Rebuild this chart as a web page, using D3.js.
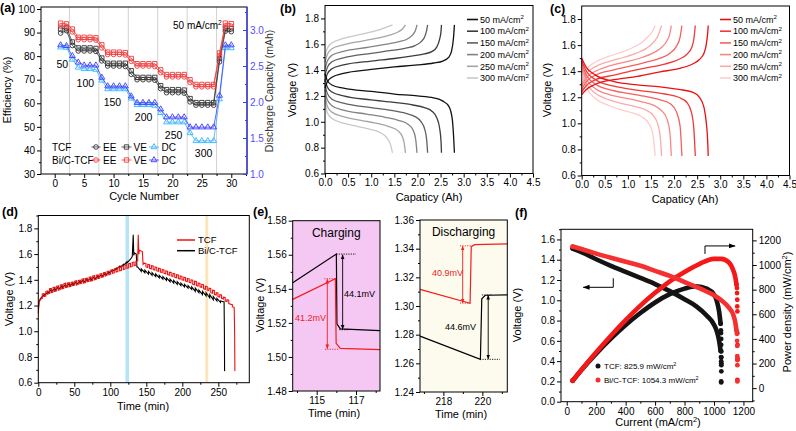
<!DOCTYPE html>
<html><head><meta charset="utf-8">
<script src="https://cdn.jsdelivr.net/npm/d3@7"></script>
<style>body{margin:0;background:#fff}svg{display:block}</style>
</head><body>
<svg id="fig" width="796" height="431"></svg>
<script>
// ================= DATA =================
// (a) cycling performance
const aCycles = [1,2,3,4,5,6,7,8,9,10,11,12,13,14,15,16,17,18,19,20,21,22,23,24,25,26,27,28,29,30];
const aTcfEE = [89.8,90.8,84.5,82.2,82.2,82.2,82,78,75.8,75.8,75.8,75.6,72.3,70,70,70,69.8,66.2,64.5,64.5,64.5,64.3,60.6,59.2,59.2,59.2,59.2,77.6,90.6,90.4];
const aTcfVE = [91.5,92,86,83.5,83.5,83.5,83.3,79.2,77,77,77,77,73.8,71,71,71,71,67.5,65.8,65.8,65.8,65.6,62,60.3,60.3,60.3,60.3,79,91.8,91.6];
const aTcfDC = [2.76,2.755,2.59,2.48,2.46,2.46,2.45,2.30,2.18,2.18,2.18,2.18,2.05,1.96,1.96,1.96,1.95,1.85,1.72,1.72,1.72,1.72,1.57,1.46,1.46,1.46,1.46,2.04,2.75,2.75];
const aBicEE = [92.8,92.5,90.3,87,87,87,86.8,83.5,80.7,80.7,80.7,80.5,77.8,75.8,75.8,75.8,75.6,73,71.2,71.2,71.2,71.2,68.8,67,67,67,67,80.2,92.8,92.6];
const aBicVE = [94,93.7,91.5,88,88,88,87.8,84.8,81.7,81.7,81.7,81.5,79,76.8,76.8,76.8,76.8,74.2,72.2,72.2,72.2,72.2,70,68,68,68,68,81.4,94,93.8];
const aBicDC = [2.79,2.78,2.64,2.55,2.51,2.51,2.51,2.34,2.22,2.22,2.22,2.22,2.08,1.99,1.99,1.99,1.99,1.90,1.79,1.79,1.79,1.79,1.65,1.65,1.65,1.65,1.65,2.09,2.79,2.79];
const aSeparators = [2.5,7.5,12.5,17.5,22.5,27.5];
const aRateLabels = ["50","100","150","200","250","300"];
const aXTicks = [0,5,10,15,20,25,30];
const aYTicks = [30,40,50,60,70,80,90,100];
const aYRTicks = [1.0,1.5,2.0,2.5,3.0];

// (b) TCF charge/discharge curves [capacity Ah, voltage V]
const rates = ["50","100","150","200","250","300"];
const bCharge = [
 [[0,1.26],[0.05,1.31],[0.15,1.345],[0.4,1.375],[1.0,1.405],[1.5,1.425],[2.0,1.44],[2.35,1.455],[2.55,1.47],[2.68,1.5],[2.74,1.55],[2.78,1.65],[2.8,1.75]],
 [[0,1.31],[0.05,1.37],[0.15,1.41],[0.4,1.44],[1.0,1.47],[1.5,1.49],[1.9,1.51],[2.15,1.525],[2.32,1.545],[2.42,1.58],[2.48,1.64],[2.51,1.70],[2.52,1.75]],
 [[0,1.36],[0.05,1.42],[0.15,1.465],[0.4,1.495],[1.0,1.53],[1.4,1.55],[1.75,1.57],[1.95,1.59],[2.08,1.62],[2.16,1.66],[2.2,1.71],[2.22,1.75]],
 [[0,1.41],[0.05,1.47],[0.15,1.515],[0.4,1.545],[0.9,1.575],[1.3,1.60],[1.6,1.62],[1.8,1.645],[1.9,1.675],[1.96,1.71],[1.99,1.75]],
 [[0,1.46],[0.05,1.52],[0.15,1.565],[0.4,1.595],[0.8,1.625],[1.1,1.645],[1.4,1.67],[1.58,1.695],[1.68,1.72],[1.74,1.75]],
 [[0,1.51],[0.05,1.57],[0.15,1.61],[0.4,1.645],[0.7,1.67],[1.0,1.695],[1.2,1.715],[1.35,1.735],[1.46,1.75]]
];
const bDischarge = [
 [[0,1.37],[0.05,1.32],[0.15,1.285],[0.4,1.26],[1.0,1.235],[1.5,1.215],[2.0,1.2],[2.35,1.185],[2.55,1.16],[2.68,1.12],[2.75,1.03],[2.78,0.9],[2.8,0.76]],
 [[0,1.33],[0.05,1.27],[0.15,1.23],[0.4,1.2],[1.0,1.17],[1.5,1.15],[1.9,1.13],[2.15,1.11],[2.32,1.08],[2.42,1.03],[2.48,0.95],[2.51,0.85],[2.52,0.76]],
 [[0,1.29],[0.05,1.22],[0.15,1.175],[0.4,1.145],[1.0,1.11],[1.4,1.09],[1.75,1.065],[1.95,1.04],[2.08,1.0],[2.16,0.94],[2.2,0.86],[2.22,0.76]],
 [[0,1.25],[0.05,1.17],[0.15,1.125],[0.4,1.09],[0.9,1.06],[1.3,1.035],[1.6,1.01],[1.8,0.98],[1.9,0.94],[1.96,0.87],[1.99,0.76]],
 [[0,1.21],[0.05,1.12],[0.15,1.075],[0.4,1.04],[0.8,1.01],[1.1,0.99],[1.4,0.96],[1.58,0.93],[1.68,0.88],[1.72,0.82],[1.74,0.76]],
 [[0,1.17],[0.05,1.07],[0.15,1.025],[0.4,0.99],[0.7,0.965],[1.0,0.94],[1.2,0.915],[1.33,0.88],[1.42,0.82],[1.46,0.76]]
];
// (c) Bi/C-TCF charge/discharge curves
const cCharge = [
 [[0,1.22],[0.1,1.26],[0.3,1.30],[0.7,1.335],[1.2,1.36],[1.7,1.395],[2.1,1.42],[2.4,1.455],[2.55,1.49],[2.65,1.54],[2.7,1.61],[2.73,1.7],[2.74,1.75]],
 [[0,1.24],[0.1,1.29],[0.3,1.335],[0.7,1.37],[1.0,1.395],[1.4,1.425],[1.8,1.455],[2.1,1.49],[2.28,1.53],[2.38,1.58],[2.43,1.65],[2.46,1.75]],
 [[0,1.26],[0.1,1.32],[0.3,1.37],[0.7,1.41],[1.0,1.435],[1.4,1.47],[1.7,1.5],[1.92,1.54],[2.05,1.59],[2.13,1.66],[2.17,1.75]],
 [[0,1.28],[0.1,1.35],[0.3,1.40],[0.6,1.44],[1.0,1.475],[1.3,1.505],[1.55,1.54],[1.72,1.58],[1.84,1.63],[1.91,1.69],[1.94,1.75]],
 [[0,1.30],[0.1,1.38],[0.3,1.435],[0.6,1.475],[0.9,1.505],[1.2,1.54],[1.4,1.575],[1.55,1.62],[1.65,1.67],[1.73,1.75]],
 [[0,1.33],[0.1,1.41],[0.3,1.47],[0.6,1.515],[0.9,1.55],[1.1,1.58],[1.3,1.62],[1.45,1.67],[1.54,1.71],[1.59,1.75]]
];
const cDischarge = [
 [[0,1.50],[0.1,1.43],[0.3,1.37],[0.7,1.32],[1.2,1.295],[1.7,1.28],[2.1,1.26],[2.4,1.24],[2.55,1.2],[2.65,1.12],[2.7,1.0],[2.73,0.85],[2.74,0.75]],
 [[0,1.48],[0.1,1.40],[0.3,1.335],[0.7,1.285],[1.0,1.265],[1.4,1.245],[1.8,1.225],[2.1,1.2],[2.28,1.16],[2.38,1.08],[2.43,0.95],[2.46,0.75]],
 [[0,1.46],[0.1,1.37],[0.3,1.30],[0.7,1.25],[1.0,1.23],[1.4,1.205],[1.7,1.18],[1.92,1.15],[2.05,1.09],[2.13,0.98],[2.17,0.75]],
 [[0,1.44],[0.1,1.34],[0.3,1.265],[0.6,1.22],[1.0,1.19],[1.3,1.165],[1.55,1.14],[1.72,1.1],[1.84,1.04],[1.91,0.93],[1.94,0.75]],
 [[0,1.42],[0.1,1.31],[0.3,1.23],[0.6,1.18],[0.9,1.15],[1.2,1.125],[1.4,1.1],[1.55,1.06],[1.65,0.99],[1.7,0.9],[1.73,0.75]],
 [[0,1.40],[0.1,1.28],[0.3,1.19],[0.6,1.135],[0.9,1.10],[1.1,1.08],[1.3,1.05],[1.45,1.0],[1.54,0.92],[1.59,0.75]]
];
const capTicks = [0,0.5,1.0,1.5,2.0,2.5,3.0,3.5,4.0,4.5];
const voltTicks = [0.6,0.8,1.0,1.2,1.4,1.6,1.8];

// (d) long-term voltage profile, time in min
const dRedStart = [[0,1.14],[1,1.22],[3,1.25]];
const dRedChargeTeeth = [ // [t, low, high]
 [3,1.25,1.29],[8,1.27,1.31],[13,1.29,1.33],[18,1.30,1.34],[23,1.31,1.35],[28,1.32,1.36],[33,1.33,1.37],[38,1.34,1.375],
 [43,1.345,1.38],[48,1.355,1.39],[53,1.36,1.395],[58,1.37,1.405],[63,1.375,1.41],[68,1.385,1.42],[73,1.39,1.43],[78,1.40,1.435],
 [83,1.41,1.445],[88,1.42,1.455],[93,1.43,1.465],[98,1.44,1.475],[103,1.45,1.485],[108,1.46,1.495],[113,1.47,1.505],[118,1.48,1.515],
 [123,1.49,1.525],[128,1.50,1.535],[133,1.51,1.545]];
const dRedPeak = [[138,1.55],[138.8,1.75],[139.6,1.60],[140.5,1.63],[144.5,1.62],[145.5,1.52],[147,1.53]];
const dRedDischargeTeeth = [ // [t, high, low]
 [147,1.53,1.50],[152,1.52,1.49],[157,1.51,1.48],[162,1.50,1.47],[167,1.49,1.46],[172,1.48,1.45],[177,1.47,1.44],[182,1.46,1.43],
 [187,1.45,1.42],[192,1.44,1.41],[197,1.43,1.40],[202,1.42,1.39],[207,1.41,1.38],[212,1.40,1.365],[217,1.39,1.355],[222,1.375,1.345],
 [227,1.365,1.33],[232,1.35,1.32],[237,1.335,1.30],[242,1.32,1.285],[247,1.30,1.27],[252,1.285,1.255],[257,1.265,1.235],[262,1.245,1.215],[267,1.21,1.19]];
const dRedEnd = [[272,1.186],[272.6,1.0],[273,0.69]];
const dBlkStart = [[0,1.17],[1,1.23],[3,1.255]];
const dBlkChargeTeeth = [ // [t, low, high]
 [3,1.255,1.285],[8,1.275,1.305],[13,1.295,1.325],[18,1.305,1.335],[23,1.315,1.345],[28,1.325,1.355],[33,1.335,1.365],[38,1.345,1.37],
 [43,1.35,1.375],[48,1.36,1.385],[53,1.365,1.39],[58,1.375,1.40],[63,1.38,1.405],[68,1.39,1.415],[73,1.395,1.425],[78,1.405,1.43],
 [83,1.415,1.44],[88,1.425,1.45],[93,1.435,1.46],[98,1.45,1.475],[103,1.465,1.49],[108,1.48,1.505],[113,1.495,1.52],[118,1.51,1.54],[123,1.53,1.56]];
const dBlkPeak = [[130.5,1.58],[131.8,1.75],[132.6,1.59],[133.5,1.61],[136,1.60],[137,1.50],[138,1.50]];
const dBlkDischargeTeeth = [ // [t, top, bottom]
 [138,1.50,1.465],[143,1.485,1.455],[148,1.475,1.445],[153,1.465,1.435],[158,1.455,1.425],[163,1.445,1.415],[168,1.435,1.405],[173,1.425,1.395],
 [178,1.415,1.385],[183,1.405,1.375],[188,1.395,1.365],[193,1.385,1.355],[198,1.375,1.345],[203,1.365,1.335],[208,1.355,1.325],[213,1.345,1.31],
 [218,1.335,1.30],[223,1.32,1.285],[228,1.31,1.275],[233,1.30,1.26],[238,1.285,1.245],[243,1.27,1.235],[248,1.255,1.225],[253,1.235,1.228]];
const dBlkEnd = [[258,1.226],[258.4,1.0],[258.7,0.69]];
const dBandCharge = [121,126];
const dBandDischarge = [232,236];
const dXTicks = [0,50,100,150,200,250];

// (e) zoomed segments
const eChgBlack = [[113.78,1.5435],[116.0,1.5604],[116.03,1.5195],[116.2,1.5165],[118.22,1.5155]];
const eChgRed = [[113.78,1.5338],[115.95,1.5459],[115.99,1.508],[116.2,1.505],[118.22,1.5043]];
const eDisRed = [[216.8,1.3116],[219.37,1.3019],[219.43,1.3414],[219.6,1.3428],[221.28,1.3433]];
const eDisBlack = [[216.8,1.279],[219.9,1.2628],[219.97,1.305],[220.15,1.3075],[221.28,1.3078]];
const eChgLabels = ["44.1mV","41.2mV"];
const eDisLabels = ["40.9mV","44.6mV"];

// (f) polarization and power density, current mA/cm2
const fTcfV = [[40,1.51],[100,1.475],[200,1.405],[300,1.34],[400,1.28],[500,1.22],[600,1.16],[700,1.09],[800,1.01],[880,0.94],[950,0.85],[1000,0.76],[1020,0.69],[1035,0.6],[1045,0.5]];
const fTcfVTail = [[1048,0.44],[1049,0.40],[1050,0.36],[1050,0.30],[1049,0.19]];
const fTcfP = [[40,60],[100,148],[200,281],[300,402],[400,512],[500,610],[600,696],[700,763],[800,808],[880,827],[950,808],[1000,760],[1020,704],[1035,621],[1045,523]];
const fTcfPTail = [[1047,470],[1048,447],[1049,400],[1049,352],[1050,298],[1050,250],[1050,203],[1049,55]];
const fBicV = [[40,1.53],[100,1.505],[200,1.46],[300,1.42],[400,1.38],[500,1.34],[600,1.29],[700,1.24],[800,1.18],[900,1.12],[1000,1.05],[1050,1.0],[1100,0.93],[1130,0.86],[1145,0.78],[1153,0.7]];
const fBicVTail = [[1156,0.67],[1157,0.60],[1158,0.55],[1158,0.45],[1159,0.41],[1159,0.36],[1159,0.2]];
const fBicP = [[40,61],[100,150],[200,292],[300,426],[400,552],[500,670],[600,774],[700,868],[800,944],[900,1008],[1000,1050],[1050,1050],[1100,1023],[1130,960],[1145,900],[1153,840]];
const fBicPTail = [[1156,813],[1157,772],[1158,718],[1158,664],[1159,623],[1159,447],[1160,352],[1160,244],[1160,230],[1159,68]];
const fLegend = ["TCF: 825.9 mW/cm^2","Bi/C-TCF: 1054.3 mW/cm^2"];
const fXTicks = [0,200,400,600,800,1000,1200];
const fYTicks = [0,0.2,0.4,0.6,0.8,1.0,1.2,1.4,1.6];
const fYRTicks = [0,200,400,600,800,1000,1200];

// ================= DRAWING =================
const FONT = '"Liberation Sans", Arial, Helvetica, sans-serif';
const svg = d3.select("#fig").attr("font-family", FONT);
const defs = svg.append("defs");
[["k","#000"],["r","#f21d1d"]].forEach(([id,c])=>{
  defs.append("marker").attr("id","ah"+id).attr("viewBox","0 0 10 10").attr("refX",9.5).attr("refY",5)
    .attr("markerWidth",5).attr("markerHeight",5).attr("orient","auto-start-reverse")
    .append("path").attr("d","M0,1L10,5L0,9z").attr("fill",c);
});
defs.append("marker").attr("id","ahf").attr("viewBox","0 0 10 10").attr("refX",9).attr("refY",5)
  .attr("markerWidth",7).attr("markerHeight",7).attr("orient","auto")
  .append("path").attr("d","M0,1.5L10,5L0,8.5z").attr("fill","#000");

function rich(t, str, fs){
  const segs = str.split(/(\^\d)/); let up=false;
  segs.forEach(s=>{ if(!s) return;
    if(s[0]==='^'){ t.append('tspan').attr('dy',-fs*0.38).attr('font-size',fs*0.68).text(s.slice(1)); up=true; }
    else { const ts=t.append('tspan').text(s); if(up){ ts.attr('dy',fs*0.38); up=false; } }
  });
  return t;
}
function text(g, x, y, str, o={}){
  const fs=o.fs||10;
  const t=g.append("text").attr("x",x).attr("y",y).attr("font-size",fs).attr("fill",o.color||"#000")
    .attr("text-anchor",o.anchor||"start");
  if(o.weight) t.attr("font-weight",o.weight);
  if(o.rotate){ t.attr("transform",`rotate(${o.rotate},${x},${y})`); }
  return rich(t,str,fs);
}
function drawAxis(g, kind, scale, tx, ty, major, minor, fmt, o={}){
  const mk = {bottom:d3.axisBottom,left:d3.axisLeft,right:d3.axisRight}[kind];
  const col=o.color||"#000";
  const ts=o.inward?-4:4, tm=o.inward?-2:2;
  const ga=g.append("g").attr("transform",`translate(${tx},${ty})`)
    .call(mk(scale).tickValues(major).tickSize(ts).tickPadding(o.pad??2).tickFormat(fmt));
  ga.attr("font-family",FONT).attr("font-size",o.fs||10);
  ga.select(".domain").remove();
  ga.selectAll("line").attr("stroke",o.tickColor||col);
  ga.selectAll("text").attr("fill",o.textColor||col);
  if(o.inward){
    // keep labels outside the frame
    if(kind==="right") ga.selectAll("text").attr("x",o.pad??3);
    if(kind==="left") ga.selectAll("text").attr("x",-(o.pad??3));
    if(kind==="bottom") ga.selectAll("text").attr("y",o.pad??3);
  }
  if(minor){
    const gm=g.append("g").attr("transform",`translate(${tx},${ty})`)
      .call(mk(scale).tickValues(minor).tickSize(tm).tickFormat(""));
    gm.select(".domain").remove();
    gm.selectAll("line").attr("stroke",o.tickColor||col);
  }
}
function frame(g, xs, ys){
  const [x0,x1]=xs.range(), [y0,y1]=ys.range();
  g.append("rect").attr("x",x0).attr("y",y1).attr("width",x1-x0).attr("height",y0-y1)
    .attr("fill","none").attr("stroke","#000").attr("stroke-width",1);
}
const fmt1=d3.format(".1f"), fmt2=d3.format(".2f"), fmtD=d3.format("d");

// ---------- (a) ----------
{
  const g=svg.append("g");
  const x=d3.scaleLinear([-2.33,32.67],[41,247]);
  const y=d3.scaleLinear([30,100.85],[174,7]);
  const yr=d3.scaleLinear([1.0,3.319],[174,7]);
  g.selectAll("line.sep").data(aSeparators).join("line")
    .attr("x1",d=>x(d)).attr("x2",d=>x(d)).attr("y1",7).attr("y2",174)
    .attr("stroke","#d2d2d2").attr("stroke-width",1);
  const series=[
    {v:aTcfDC, s:yr, c:"#35b2ff", sym:d3.symbolTriangle, size:15},
    {v:aBicDC, s:yr, c:"#3a3cff", sym:d3.symbolTriangle, size:15},
    {v:aTcfVE, s:y, c:"#333", sym:d3.symbolSquare, size:19},
    {v:aTcfEE, s:y, c:"#333", sym:d3.symbolCircle, size:17},
    {v:aBicVE, s:y, c:"#f03c3c", sym:d3.symbolSquare, size:19},
    {v:aBicEE, s:y, c:"#f03c3c", sym:d3.symbolCircle, size:17}
  ];
  series.forEach(se=>{
    const pts=aCycles.map((c,i)=>[c,se.v[i]]);
    g.append("path").attr("d",d3.line().x(d=>x(d[0])).y(d=>se.s(d[1]))(pts))
      .attr("fill","none").attr("stroke",se.c).attr("stroke-width",0.8);
    g.selectAll(null).data(pts).join("path")
      .attr("transform",d=>`translate(${x(d[0])},${se.s(d[1])})`)
      .attr("d",d3.symbol().type(se.sym).size(se.size)())
      .attr("fill","none").attr("stroke",se.c).attr("stroke-width",0.9);
  });
  frame(g,x,y);
  g.append("line").attr("x1",247).attr("x2",247).attr("y1",7).attr("y2",174).attr("stroke","#3a3cff").attr("stroke-width",1.2);
  drawAxis(g,"bottom",x,0,174,aXTicks,[2.5,7.5,12.5,17.5,22.5,27.5,32.5],fmtD);
  drawAxis(g,"left",y,41,0,aYTicks,[35,45,55,65,75,85,95],fmtD);
  drawAxis(g,"right",yr,247,0,aYRTicks,[1.25,1.75,2.25,2.75,3.25],fmt1,{color:"#3a3cff",textColor:"#4f4fff",inward:true,pad:3});
  const rp=[[1.3,76.5],[5.2,68.3],[9.8,60.2],[15.1,53.8],[20.2,46.2],[25.3,38.6]];
  aRateLabels.forEach((l,i)=>text(g,x(rp[i][0]),y(rp[i][1])+3.5,l,{anchor:"middle",fs:10.5}));
  text(g,173,29,"50 mA/cm^2",{fs:10});
  text(g,144,199.5,"Cycle Number",{anchor:"middle",fs:11});
  text(g,11,90,"Efficiency (%)",{anchor:"middle",fs:11,rotate:-90});
  text(g,273,91,"Discharge Capacity (mAh)",{anchor:"middle",fs:10.5,rotate:-90,color:"#333"});
  const leg=[
    {y:147,label:"TCF",items:[["#333",d3.symbolCircle,17,"EE"],["#333",d3.symbolSquare,19,"VE"],["#35b2ff",d3.symbolTriangle,15,"DC"]]},
    {y:160,label:"Bi/C-TCF",items:[["#f03c3c",d3.symbolCircle,17,"EE"],["#f03c3c",d3.symbolSquare,19,"VE"],["#3a3cff",d3.symbolTriangle,15,"DC"]]}
  ];
  const lx=[[91.5,100.5,103],[121.5,131.5,133.5],[149,159,161.5]];
  leg.forEach(r=>{
    text(g,52,r.y+3.5,r.label,{fs:10});
    r.items.forEach((it,i)=>{
      g.append("line").attr("x1",lx[i][0]).attr("x2",lx[i][1]).attr("y1",r.y).attr("y2",r.y).attr("stroke",it[0]).attr("stroke-width",0.8);
      g.append("path").attr("transform",`translate(${(lx[i][0]+lx[i][1])/2},${r.y})`).attr("d",d3.symbol().type(it[1]).size(it[2])())
        .attr("fill","none").attr("stroke",it[0]).attr("stroke-width",0.9);
      text(g,lx[i][2],r.y+3.5,it[3],{fs:10});
    });
  });
  text(g,0,12,"(a)",{fs:12.5,weight:"bold"});
}

// ---------- (b) & (c) ----------
function capPanel(x, y, charge, discharge, colors, legX, titleX, titleY, ylabX){
  const g=svg.append("g");
  const line=d3.line().x(d=>x(d[0])).y(d=>y(d[1])).curve(d3.curveMonotoneX);
  for(let i=charge.length-1;i>=0;i--){
    g.append("path").attr("d",line(charge[i])).attr("fill","none").attr("stroke",colors[i]).attr("stroke-width",1.3);
    g.append("path").attr("d",line(discharge[i])).attr("fill","none").attr("stroke",colors[i]).attr("stroke-width",1.3);
  }
  frame(g,x,y);
  drawAxis(g,"bottom",x,0,y.range()[0],capTicks,[0.25,0.75,1.25,1.75,2.25,2.75,3.25,3.75,4.25],fmt1,{pad:1.5});
  drawAxis(g,"left",y,x.range()[0],0,voltTicks,[0.7,0.9,1.1,1.3,1.5,1.7],fmt1);
  rates.forEach((r,i)=>{
    const yy=19.5+i*11.7;
    g.append("line").attr("x1",legX).attr("x2",legX+11).attr("y1",yy).attr("y2",yy).attr("stroke",colors[i]).attr("stroke-width",1.6);
    text(g,legX+13,yy+3.2,r+" mA/cm^2",{fs:9});
  });
  text(g,titleX,titleY,"Capaticy (Ah)",{anchor:"middle",fs:11});
  text(g,ylabX,90,"Voltage (V)",{anchor:"middle",fs:11,rotate:-90});
  return g;
}
{
  const xb=d3.scaleLinear([0,4.5],[325,533]), yb=d3.scaleLinear([0.6,1.9],[173.5,5.5]);
  const gb=capPanel(xb,yb,bCharge,bDischarge,["#111","#3c3c3c","#606060","#838383","#a6a6a6","#c8c8c8"],467,429,201,296);
  text(gb,280,13,"(b)",{fs:12.5,weight:"bold"});
  const xc=d3.scaleLinear([0,4.5],[581.7,789.5]), yc=d3.scaleLinear([0.6,1.9],[175.5,6]);
  const gc=capPanel(xc,yc,cCharge,cDischarge,["#ec1010","#f03a3a","#f46060","#f78787","#f9abab","#fbcdcd"],720,685,203,551);
  text(gc,550,13,"(c)",{fs:12.5,weight:"bold"});
}

// ---------- (d) ----------
{
  const g=svg.append("g");
  const x=d3.scaleLinear([0,293],[38.3,249.3]), y=d3.scaleLinear([0.6,1.9],[382.7,215.5]);
  [[dBandCharge,"#b6e4f6"],[dBandDischarge,"#fce4b8"]].forEach(([b,c])=>{
    g.append("rect").attr("x",x(b[0])).attr("width",x(b[1])-x(b[0])).attr("y",215.5).attr("height",382.7-215.5).attr("fill",c);
  });
  const redPts=[...dRedStart];
  dRedChargeTeeth.forEach(([t,lo,hi])=>redPts.push([t,lo],[t+2.5,lo+0.004],[t+2.5,hi],[t+5,hi+0.003]));
  redPts.push(...dRedPeak);
  dRedDischargeTeeth.forEach(([t,hi,lo])=>redPts.push([t,hi],[t+2.5,hi-0.003],[t+2.5,lo],[t+5,lo-0.004]));
  redPts.push(...dRedEnd);
  const blkPts=[...dBlkStart];
  dBlkChargeTeeth.forEach(([t,lo,hi])=>blkPts.push([t,lo],[t+5,hi]));
  blkPts.push(...dBlkPeak);
  dBlkDischargeTeeth.forEach(([t,top,bot])=>blkPts.push([t,top],[t+5,bot]));
  blkPts.push(...dBlkEnd);
  const line=d3.line().x(d=>x(d[0])).y(d=>y(d[1]));
  g.append("path").attr("d",line(blkPts)).attr("fill","none").attr("stroke","#000").attr("stroke-width",1.1);
  g.append("path").attr("d",line(redPts)).attr("fill","none").attr("stroke","#f01010").attr("stroke-width",1.1);
  frame(g,x,y);
  drawAxis(g,"bottom",x,0,382.7,dXTicks,[25,75,125,175,225,275],fmtD);
  drawAxis(g,"left",y,38.3,0,voltTicks,[0.7,0.9,1.1,1.3,1.5,1.7,1.9],fmt1);
  g.append("line").attr("x1",177).attr("x2",195).attr("y1",240).attr("y2",240).attr("stroke","#f01010").attr("stroke-width",1.5);
  text(g,198,243.3,"TCF",{fs:9.5});
  g.append("line").attr("x1",177).attr("x2",195).attr("y1",250.7).attr("y2",250.7).attr("stroke","#000").attr("stroke-width",1.5);
  text(g,198,254,"Bi/C-TCF",{fs:9.5});
  text(g,143,410,"Time  (min)",{anchor:"middle",fs:11});
  text(g,13,299,"Voltage (V)",{anchor:"middle",fs:11,rotate:-90});
  text(g,2,216,"(d)",{fs:12.5,weight:"bold"});
}

// ---------- (e) ----------
{
  const g=svg.append("g");
  const x1=d3.scaleLinear([113.78,118.22],[292.7,380]), y1=d3.scaleLinear([1.48,1.58],[391,220.7]);
  const x2=d3.scaleLinear([216.8,221.28],[420,507.3]), y2=d3.scaleLinear([1.24,1.36],[392,220]);
  g.append("rect").attr("x",292.7).attr("y",220.7).attr("width",380-292.7).attr("height",391-220.7).attr("fill","#f4c8f3");
  g.append("rect").attr("x",420).attr("y",220).attr("width",507.3-420).attr("height",392-220).attr("fill","#fcfbee");
  const l1=d3.line().x(d=>x1(d[0])).y(d=>y1(d[1]));
  const l2=d3.line().x(d=>x2(d[0])).y(d=>y2(d[1]));
  g.append("path").attr("d",l1(eChgBlack)).attr("fill","none").attr("stroke","#000").attr("stroke-width",1.2);
  g.append("path").attr("d",l1(eChgRed)).attr("fill","none").attr("stroke","#f21d1d").attr("stroke-width",1.2);
  g.append("path").attr("d",l2(eDisRed)).attr("fill","none").attr("stroke","#f21d1d").attr("stroke-width",1.2);
  g.append("path").attr("d",l2(eDisBlack)).attr("fill","none").attr("stroke","#000").attr("stroke-width",1.2);
  function dot(xs,ys,t0,t1,v,c){ g.append("line").attr("x1",xs(t0)).attr("x2",xs(t1)).attr("y1",ys(v)).attr("y2",ys(v))
      .attr("stroke",c).attr("stroke-width",0.9).attr("stroke-dasharray","1.2,1.2"); }
  function arr(xs,ys,t,v0,v1,c,id){ g.append("line").attr("x1",xs(t)).attr("x2",xs(t)).attr("y1",ys(v0)).attr("y2",ys(v1))
      .attr("stroke",c).attr("stroke-width",0.9).attr("marker-start",`url(#ah${id})`).attr("marker-end",`url(#ah${id})`); }
  dot(x1,y1,116.0,117.0,1.5604,"#000"); dot(x1,y1,116.15,116.6,1.5160,"#000");
  arr(x1,y1,116.32,1.5600,1.5162,"#000","k");
  dot(x1,y1,115.39,116.0,1.5459,"#f21d1d"); dot(x1,y1,115.42,116.1,1.5045,"#f21d1d");
  arr(x1,y1,115.54,1.5456,1.5048,"#f21d1d","r");
  text(g,344,296.5,eChgLabels[0],{fs:9});
  text(g,295,320.5,eChgLabels[1],{fs:9,color:"#f21d1d"});
  dot(x2,y2,218.85,219.45,1.3420,"#f21d1d"); dot(x2,y2,218.85,219.37,1.3020,"#f21d1d");
  arr(x2,y2,218.99,1.3418,1.3022,"#f21d1d","r");
  dot(x2,y2,219.88,220.9,1.2628,"#000"); dot(x2,y2,219.98,220.5,1.3077,"#000");
  arr(x2,y2,220.3,1.3075,1.2630,"#000","k");
  text(g,432,276,eDisLabels[0],{fs:9,color:"#f21d1d"});
  text(g,445,330,eDisLabels[1],{fs:9});
  [[x1,y1],[x2,y2]].forEach(([xs,ys])=>frame(g,xs,ys));
  drawAxis(g,"bottom",x1,0,391,[115,117],[114,116,118],fmtD);
  drawAxis(g,"left",y1,292.7,0,[1.48,1.50,1.52,1.54,1.56,1.58],[1.49,1.51,1.53,1.55,1.57],fmt2);
  drawAxis(g,"bottom",x2,0,392,[218,220],[217,219,221],fmtD);
  drawAxis(g,"left",y2,420,0,[1.24,1.26,1.28,1.30,1.32,1.34,1.36],[1.25,1.27,1.29,1.31,1.33,1.35],fmt2);
  text(g,336.3,237,"Charging",{anchor:"middle",fs:12});
  text(g,463.6,236,"Discharging",{anchor:"middle",fs:12});
  text(g,334,417,"Time  (min)",{anchor:"middle",fs:11});
  text(g,461,418,"Time  (min)",{anchor:"middle",fs:11});
  text(g,264,305,"Voltage (V)",{anchor:"middle",fs:11,rotate:-90});
  text(g,253,216,"(e)",{fs:12.5,weight:"bold"});
}

// ---------- (f) ----------
{
  const g=svg.append("g");
  const x=d3.scaleLinear([-39,1263],[561,752.7]);
  const yl=d3.scaleLinear([0,1.7],[401.7,229.3]);
  const yr=d3.scaleLinear([-110,1290],[401.7,229.3]);
  const mkLine=(ys)=>d3.line().x(d=>x(d[0])).y(d=>ys(d[1])).curve(d3.curveMonotoneX);
  const sets=[
    {m:fTcfP,t:fTcfPTail,s:yr,c:"#141414"},
    {m:fTcfV,t:fTcfVTail,s:yl,c:"#141414"},
    {m:fBicP,t:fBicPTail,s:yr,c:"#f41818"},
    {m:fBicV,t:fBicVTail,s:yl,c:"#f53030"}
  ];
  sets.forEach(se=>{
    g.append("path").attr("d",mkLine(se.s)(se.m)).attr("fill","none").attr("stroke",se.c)
      .attr("stroke-width",4.6).attr("stroke-linecap","round").attr("stroke-linejoin","round");
    g.selectAll(null).data([se.m[0],se.m[se.m.length-1],...se.t]).join("circle")
      .attr("cx",d=>x(d[0])).attr("cy",d=>se.s(d[1])).attr("r",2.4).attr("fill",se.c);
  });
  frame(g,x,yl);
  drawAxis(g,"bottom",x,0,401.7,fXTicks,[100,300,500,700,900,1100],fmtD);
  drawAxis(g,"left",yl,561,0,fYTicks,[0.1,0.3,0.5,0.7,0.9,1.1,1.3,1.5,1.7],fmt1);
  drawAxis(g,"right",yr,752.7,0,fYRTicks,[-100,100,300,500,700,900,1100],fmtD);
  g.append("path").attr("d",`M${x(316)},${yl(1.217)}V${yl(1.128)}H${x(112)}`).attr("fill","none").attr("stroke","#000").attr("stroke-width",1).attr("marker-end","url(#ahf)");
  g.append("path").attr("d",`M${x(939)},${yr(1090)}V${yr(1155)}H${x(1143)}`).attr("fill","none").attr("stroke","#000").attr("stroke-width",1).attr("marker-end","url(#ahf)");
  g.append("circle").attr("cx",598).attr("cy",366).attr("r",2.5).attr("fill","#141414");
  text(g,604,369,fLegend[0],{fs:8});
  g.append("circle").attr("cx",598).attr("cy",380).attr("r",2.5).attr("fill","#f53030");
  text(g,604,383,fLegend[1],{fs:8});
  text(g,658,426,"Current (mA/cm^2)",{anchor:"middle",fs:11});
  text(g,521,315,"Voltage (V)",{anchor:"middle",fs:11,rotate:-90});
  text(g,791,312,"Power density (mW/cm^2)",{anchor:"middle",fs:11,rotate:-90});
  text(g,515,217,"(f)",{fs:12.5,weight:"bold"});
}
</script>
</body></html>
